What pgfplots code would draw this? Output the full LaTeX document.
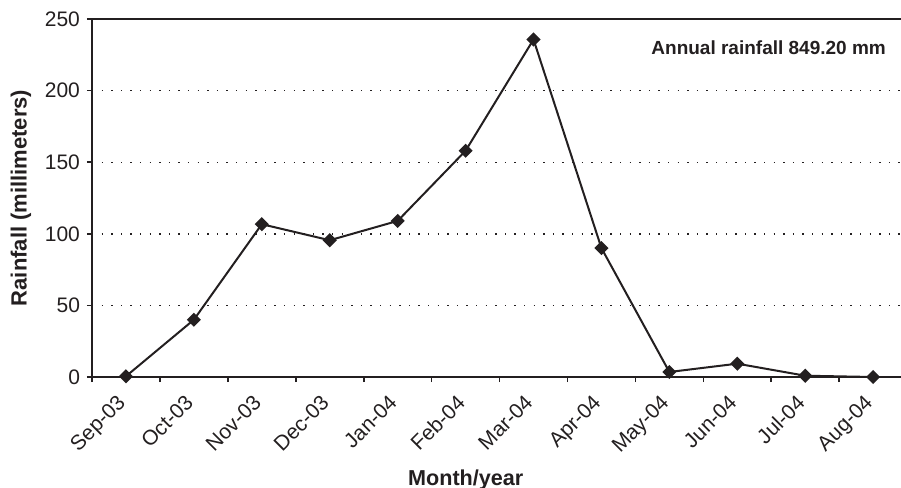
\documentclass[border=0pt]{standalone}
\usepackage{pgfplots}
\pgfplotsset{compat=1.18}
\usepackage{fontspec}
\setmainfont{Liberation Sans}
\definecolor{ink}{HTML}{231F20}
\begin{document}
\begin{tikzpicture}
\begin{axis}[
  scale only axis,
  width=404.5pt, height=179pt,
  xmin=-0.5, xmax=11.41,
  ymin=0, ymax=250,
  axis x line=box, axis y line=left,
  axis line style={-, line width=1pt, ink},
  xtick={0,...,11},
  xticklabels={Sep-03,Oct-03,Nov-03,Dec-03,Jan-04,Feb-04,Mar-04,Apr-04,May-04,Jun-04,Jul-04,Aug-04},
  minor xtick={-0.5,0.5,...,10.5},
  xtick pos=lower,
  major x tick style={draw=none},
  minor tick length=2.5pt,
  major tick length=2.5pt,
  tick align=outside,
  tick style={line width=0.8pt, ink},
  ytick={0,50,...,250},
  ymajorgrids,
  grid style={ink, line width=0.7pt, dash pattern=on 0.7pt off 4.1pt},
  /pgf/number format/assume math mode=true,
  ticklabel style={font=\fontsize{10.5}{12}\selectfont, text=ink},
  xticklabel style={rotate=45, anchor=north east, inner sep=1pt, xshift=-6.5pt, yshift=0.5pt},
  xlabel={\textbf{Month/year}},
  ylabel={\textbf{Rainfall (millimeters)}},
  xlabel style={font=\fontsize{10.8}{12}\selectfont, text=ink, at={(rel axis cs:0.462,0)}, anchor=base, yshift=-54pt},
  ylabel style={font=\fontsize{11}{12}\selectfont, text=ink, at={(rel axis cs:0,0.5)}, anchor=center, yshift=35.5pt},
]
\addplot[ink, line width=1pt, mark=square*, mark size=2pt, mark options={fill=ink, draw=ink, rotate=45}]
coordinates {
(0,0.5) (1,40) (2,106.7) (3,95.5) (4,109) (5,158) (6,235.7) (7,90) (8,3.5) (9,9.3) (10,0.9) (11,0)
};
\node[anchor=east, font=\fontsize{9.5}{11}\selectfont\bfseries, text=ink] at (rel axis cs:0.99,0.92) {Annual rainfall 849.20 mm};
\coordinate (sw) at (rel axis cs:0,0);
\coordinate (ne) at (rel axis cs:1,1);
\end{axis}
\pgfresetboundingbox
\path[use as bounding box] ([xshift=-46pt,yshift=-55.5pt]sw) rectangle ([yshift=9.5pt]ne);
\end{tikzpicture}
\end{document}
